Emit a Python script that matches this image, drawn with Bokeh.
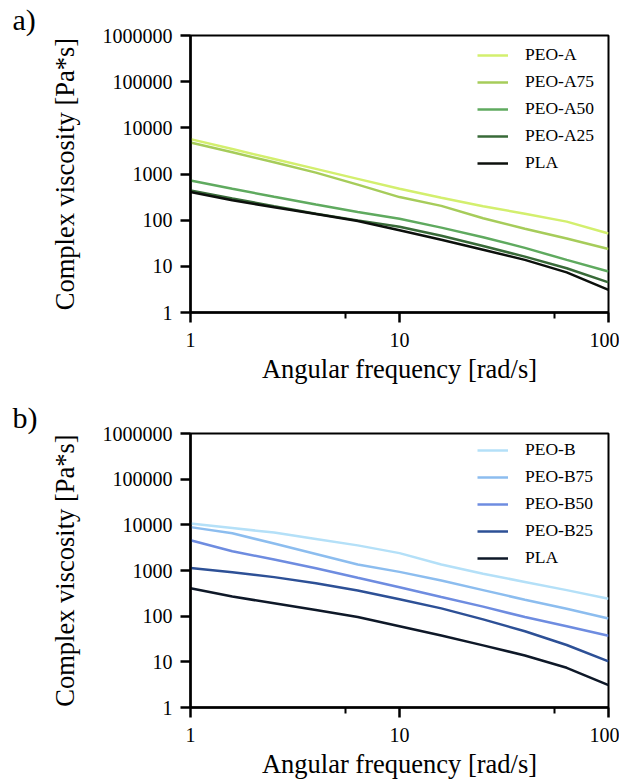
from bokeh.plotting import figure
from bokeh.models import (Range1d, FixedTicker, PrintfTickFormatter, Legend, LegendItem, Title)
from bokeh.layouts import column
from bokeh.embed import file_html
from bokeh.resources import INLINE

# ---------------- data ----------------
freq = [1, 1.585, 2.512, 3.981, 6.310, 10, 15.85, 25.12, 39.81, 63.10, 100]

peo_a = [5690, 3470, 2110, 1290, 785, 479, 305, 200, 138, 93, 51.5]
peo_a75 = [4830, 2950, 1800, 1070, 589, 316, 204, 110, 65, 40, 23.8]
peo_a50 = [724, 479, 320, 219, 151, 107, 69, 42.7, 25.1, 13.8, 7.7]
peo_a25 = [442, 295, 200, 138, 99, 72, 46, 27.5, 16.2, 9.1, 4.5]
pla = [407, 269, 191, 136, 95.5, 60.3, 37.6, 22.9, 13.8, 7.4, 3.1]

peo_b = [10715, 8511, 6761, 4898, 3548, 2399, 1349, 851, 562, 372, 240]
peo_b75 = [8913, 6531, 3890, 2291, 1349, 933, 603, 372, 229, 145, 89]
peo_b50 = [4613, 2630, 1738, 1122, 692, 431, 263, 162, 95.5, 60.3, 37.2]
peo_b25 = [1132, 918, 716, 525, 363, 234, 148, 85, 46.8, 23.4, 10.2]

names_a = ["PEO-A", "PEO-A75", "PEO-A50", "PEO-A25", "PLA"]
series_a = [peo_a, peo_a75, peo_a50, peo_a25, pla]
colors_a = ["#d3ef6e", "#a6cc5a", "#5faa5f", "#386a38", "#0c100c"]

names_b = ["PEO-B", "PEO-B75", "PEO-B50", "PEO-B25", "PLA"]
series_b = [peo_b, peo_b75, peo_b50, peo_b25, pla]
colors_b = ["#b4e0f8", "#8cbdef", "#6e8ce0", "#2d5096", "#0e1828"]

x_ticks = [1, 10, 100]
x_minor = [5.5, 55]
y_ticks = [1, 10, 100, 1000, 10000, 100000, 1000000]

SERIF = "Liberation Serif"


def make_panel(letter, names, series, colors, height, top, bottom):
    left = 190
    p = figure(width=619, height=height, x_axis_type="log", y_axis_type="log",
               x_range=Range1d(1, 100), y_range=Range1d(1, 1e6),
               output_backend="svg", toolbar_location=None,
               min_border_left=left, min_border_right=11,
               min_border_top=top, min_border_bottom=bottom)
    p.grid.visible = False
    p.outline_line_color = "black"
    p.outline_line_width = 2
    p.background_fill_color = "white"
    p.border_fill_color = "white"

    for ax in (p.xaxis[0], p.yaxis[0]):
        ax.axis_line_width = 2.5
        ax.axis_line_color = "black"
        ax.major_tick_line_width = 2.5
        ax.major_tick_out = 10
        ax.major_tick_in = 0
        ax.minor_tick_line_width = 2
        ax.minor_tick_out = 6
        ax.minor_tick_in = 0
        ax.major_label_text_font = SERIF
        ax.major_label_text_font_size = "20px"
        ax.major_label_text_color = "black"
        ax.axis_label_text_font = SERIF
        ax.axis_label_text_font_size = "26.5px"
        ax.axis_label_text_font_style = "normal"
        ax.axis_label_text_color = "black"

    p.xaxis[0].ticker = FixedTicker(ticks=x_ticks, minor_ticks=x_minor)
    p.yaxis[0].ticker = FixedTicker(ticks=y_ticks, minor_ticks=[])
    p.xaxis[0].formatter = PrintfTickFormatter(format="%d")
    p.yaxis[0].formatter = PrintfTickFormatter(format="%d")
    p.xaxis[0].major_label_standoff = 10
    p.yaxis[0].major_label_standoff = 8
    p.xaxis[0].axis_label = "Angular frequency [rad/s]"
    p.yaxis[0].axis_label = "Complex viscosity [Pa*s]"
    p.xaxis[0].axis_label_standoff = 4
    p.yaxis[0].axis_label_standoff = 20

    items = []
    for name, vals, col in zip(names, series, colors):
        r = p.line(freq, vals, line_color=col, line_width=2.5)
        items.append(LegendItem(label=name, renderers=[r]))

    leg = Legend(items=items, location=(287, 139))
    leg.border_line_color = None
    leg.background_fill_alpha = 0
    leg.label_text_font = SERIF
    leg.label_text_font_size = "17.5px"
    leg.label_text_color = "black"
    leg.glyph_width = 31
    leg.glyph_height = 20
    leg.label_height = 20
    leg.spacing = 6
    leg.padding = 0
    leg.margin = 0
    leg.label_standoff = 17
    p.add_layout(leg)

    p.add_layout(Title(text=letter, align="left", offset=-(left - 12),
                       text_font=SERIF, text_font_size="30px", text_font_style="normal",
                       text_color="black", standoff=0), "above")
    return p


p1 = make_panel("a)", names_a, series_a, colors_a, 386, 33, 72)
p2 = make_panel("b)", names_b, series_b, colors_b, 395, 47, 70)

layout = column(p1, p2, spacing=0)
open("out.html", "w").write(file_html(layout, INLINE))
